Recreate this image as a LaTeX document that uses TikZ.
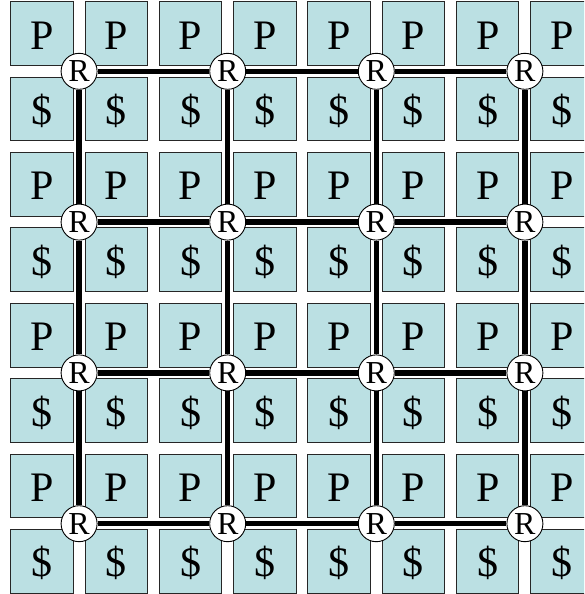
\documentclass[tikz,border=0pt]{standalone}
\usepackage{fontspec}
\setmainfont{Liberation Serif}
\usepackage{tikz}
\definecolor{cellfill}{RGB}{187,224,227}

\begin{document}
\begin{tikzpicture}[x=1pt, y=-1pt,
  cell/.style={draw=black!85, line width=0.9pt, fill=cellfill, minimum width=62.4pt,
    minimum height=63.8pt, inner sep=0pt, text height=31pt, text depth=0pt,
    font=\fontsize{42}{42}\selectfont},
  router/.style={circle, draw=black, line width=0.9pt, fill=white, minimum size=36pt,
    inner sep=0pt, font=\fontsize{32}{32}\selectfont},
  link/.style={line width=5.5pt}
]
\clip (0,0) rectangle (584,594);

%% cells: P on odd rows, $ on even rows
\foreach \r in {1,...,8}
  \foreach \c in {1,...,8} {
    \pgfmathsetmacro{\cx}{41.9+74.3*(\c-1)}
    \pgfmathsetmacro{\cy}{33.6+75.4*(\r-1)}
    \ifodd\r
      \node[cell] (cell-\r-\c) at (\cx,\cy) {P};
    \else
      \node[cell] (cell-\r-\c) at (\cx,\cy) {\$};
    \fi
  }

%% routers
\foreach \i in {1,...,4}
  \foreach \j in {1,...,4}
    \node[router] (rt-\i-\j) at ({79.1+148.6*(\j-1)},{71.3+150.8*(\i-1)}) {R};

%% links
\foreach \i in {1,...,4}
  \foreach \j/\k in {1/2,2/3,3/4} {
    \draw[link] (rt-\i-\j) -- (rt-\i-\k);
    \draw[link] (rt-\j-\i) -- (rt-\k-\i);
  }
\end{tikzpicture}
\end{document}
